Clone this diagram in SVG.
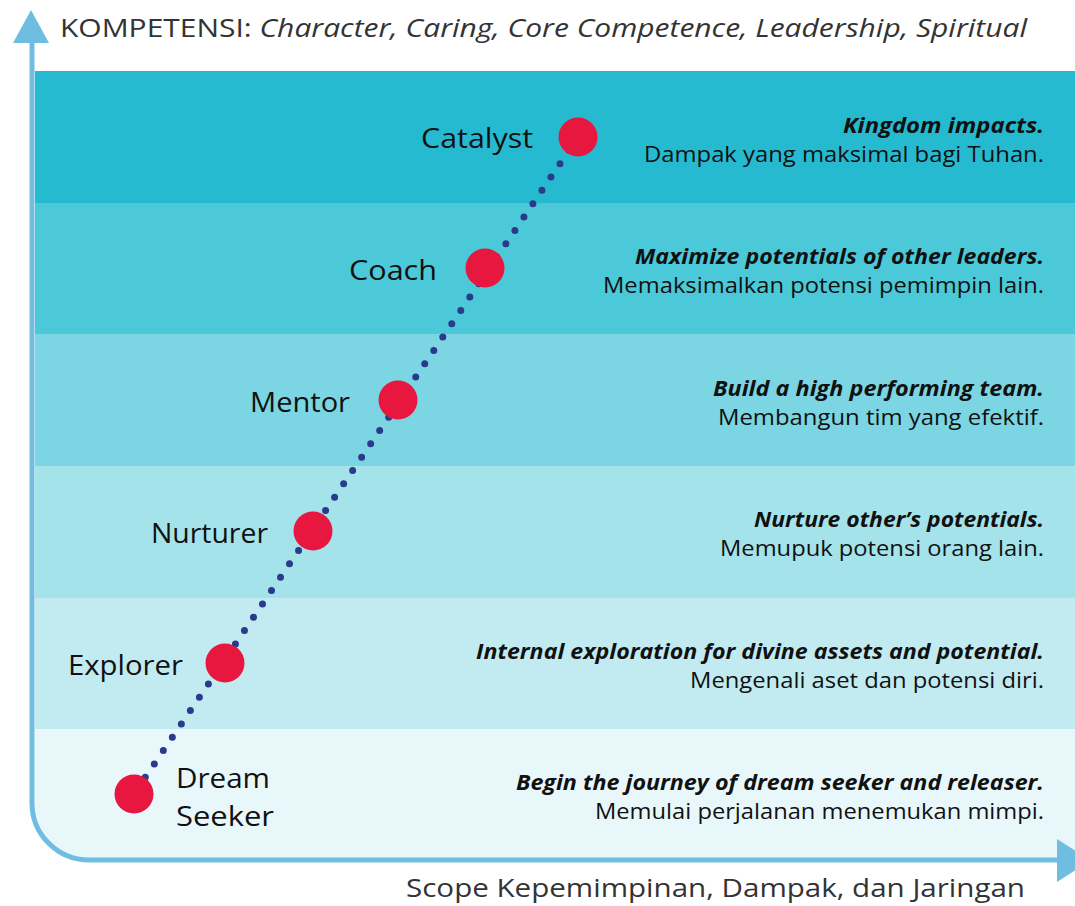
<svg xmlns="http://www.w3.org/2000/svg" width="1075" height="906" viewBox="0 0 1075 906">
<style>
.lbl{font-family:"Open Sans","Noto Sans",sans-serif;font-size:28px;fill:#111}
.hd{font-family:"Open Sans","Noto Sans",sans-serif;font-size:22px;font-weight:bold;font-style:italic;fill:#111;text-anchor:end}
.sb{font-family:"Open Sans","Noto Sans",sans-serif;font-size:22px;fill:#111;text-anchor:end}
.dot{fill:#e8173f}
.ax{fill:none;stroke:#6fbde0;stroke-width:5}
.ttl{font-family:"Open Sans","Noto Sans",sans-serif;font-size:26px;fill:#333}
</style>
<rect width="1075" height="906" fill="#fff"/>
<g id="catalyst">
<rect x="35" y="71" width="1040" height="132" fill="#26bad0"/>
</g>
<g id="coach">
<rect x="35" y="203" width="1040" height="131" fill="#4bc9d8"/>
</g>
<g id="mentor">
<rect x="35" y="334" width="1040" height="132" fill="#7bd5e2"/>
</g>
<g id="nurturer">
<rect x="35" y="466" width="1040" height="132" fill="#a5e3eb"/>
</g>
<g id="explorer">
<rect x="35" y="598" width="1040" height="131" fill="#c2ebf1"/>
</g>
<g id="dream-seeker">
<path d="M35,729 H1075 V860 H92 A57,57 0 0 1 35,803 Z" fill="#e8f7fa"/>
</g>
<g id="connectors">
<line x1="578" y1="137" x2="134" y2="794" stroke="#2b3a8c" stroke-width="7" stroke-linecap="round" stroke-dasharray="0 16.1"/>
</g>
<g id="nodes">
<g id="catalyst-node">
<circle class="dot" cx="578" cy="137" r="19.5"/>
<text class="lbl" x="421" y="148" textLength="112" lengthAdjust="spacingAndGlyphs">Catalyst</text>
<text class="hd" x="1044" y="133" textLength="201" lengthAdjust="spacingAndGlyphs">Kingdom impacts.</text>
<text class="sb" x="1044" y="162" textLength="400" lengthAdjust="spacingAndGlyphs">Dampak yang maksimal bagi Tuhan.</text>
</g>
<g id="coach-node">
<circle class="dot" cx="485" cy="268" r="19.5"/>
<text class="lbl" x="349" y="280" textLength="88" lengthAdjust="spacingAndGlyphs">Coach</text>
<text class="hd" x="1044" y="264" textLength="409" lengthAdjust="spacingAndGlyphs">Maximize potentials of other leaders.</text>
<text class="sb" x="1044" y="293" textLength="441" lengthAdjust="spacingAndGlyphs">Memaksimalkan potensi pemimpin lain.</text>
</g>
<g id="mentor-node">
<circle class="dot" cx="398" cy="400" r="19.5"/>
<text class="lbl" x="250" y="412" textLength="100" lengthAdjust="spacingAndGlyphs">Mentor</text>
<text class="hd" x="1044" y="396" textLength="331" lengthAdjust="spacingAndGlyphs">Build a high performing team.</text>
<text class="sb" x="1044" y="425" textLength="326" lengthAdjust="spacingAndGlyphs">Membangun tim yang efektif.</text>
</g>
<g id="nurturer-node">
<circle class="dot" cx="313" cy="531" r="19.5"/>
<text class="lbl" x="151" y="543" textLength="117" lengthAdjust="spacingAndGlyphs">Nurturer</text>
<text class="hd" x="1044" y="527" textLength="290" lengthAdjust="spacingAndGlyphs">Nurture other’s potentials.</text>
<text class="sb" x="1044" y="556" textLength="324" lengthAdjust="spacingAndGlyphs">Memupuk potensi orang lain.</text>
</g>
<g id="explorer-node">
<circle class="dot" cx="225" cy="663" r="19.5"/>
<text class="lbl" x="68" y="675" textLength="115" lengthAdjust="spacingAndGlyphs">Explorer</text>
<text class="hd" x="1044" y="659" textLength="568" lengthAdjust="spacingAndGlyphs">Internal exploration for divine assets and potential.</text>
<text class="sb" x="1044" y="688" textLength="354" lengthAdjust="spacingAndGlyphs">Mengenali aset dan potensi diri.</text>
</g>
<g id="dream-seeker-node">
<circle class="dot" cx="134" cy="794" r="19.5"/>
<text class="lbl" x="176" y="788" textLength="94" lengthAdjust="spacingAndGlyphs">Dream</text>
<text class="lbl" x="176" y="826" textLength="98" lengthAdjust="spacingAndGlyphs">Seeker</text>
<text class="hd" x="1044" y="790" textLength="528" lengthAdjust="spacingAndGlyphs">Begin the journey of dream seeker and releaser.</text>
<text class="sb" x="1044" y="819" textLength="449" lengthAdjust="spacingAndGlyphs">Memulai perjalanan menemukan mimpi.</text>
</g>
</g>
<g id="axes">
<path class="ax" d="M32,40 V803 A57,57 0 0 0 89,860 H1060"/>
<polygon points="13,43 49,43 31,10" fill="#6fbde0"/>
<polygon points="1057,839 1057,882 1091,860.5" fill="#6fbde0"/>
<text class="ttl" x="60" y="37" textLength="967" lengthAdjust="spacingAndGlyphs">KOMPETENSI: <tspan font-style="italic">Character, Caring, Core Competence, Leadership, Spiritual</tspan></text>
<text class="ttl" x="406" y="897" textLength="619" lengthAdjust="spacingAndGlyphs">Scope Kepemimpinan, Dampak, dan Jaringan</text>
</g>
</svg>
